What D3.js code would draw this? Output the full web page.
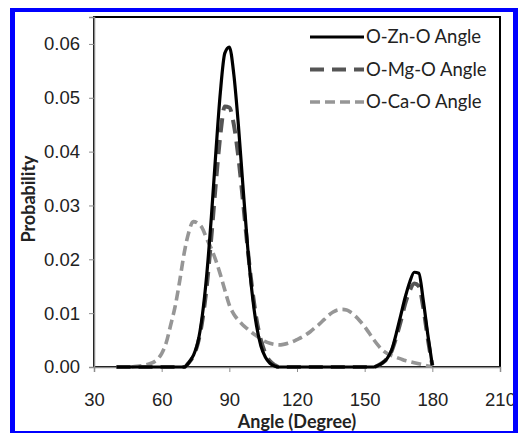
<!DOCTYPE html>
<html>
<head>
<meta charset="utf-8">
<script src="https://cdn.jsdelivr.net/npm/d3@7"></script>
<style>
  body { margin: 0; background: #fff; }
  svg { display: block; font-family: Lato, "Open Sans", sans-serif; }
  .axis path, .axis line { stroke: #8c8c8c; }
  .axis text { font-size: 18.5px; fill: #222; }
</style>
</head>
<body>
<div id="chart"></div>
<script>
// angle grid (degrees)
var angles = d3.range(40, 181, 2);

var znValues = [
  0, 0, 0, 0, 0, 0, 0, 0, 0, 0, 0, 0, 0, 0, 0, 0,
  0.0008, 0.0021, 0.0045, 0.0095, 0.0172, 0.0277, 0.0397, 0.0509, 0.0583, 0.0594,
  0.0543, 0.0450, 0.0338, 0.0229, 0.0141, 0.0078, 0.0039, 0.0018, 0.0007, 0.0002,
  0, 0, 0, 0, 0, 0, 0, 0, 0, 0, 0, 0, 0, 0, 0, 0, 0, 0, 0, 0, 0, 0,
  0.0003, 0.0008, 0.0016, 0.0032, 0.0062, 0.0096, 0.0130, 0.0158, 0.0176, 0.0174,
  0.0123, 0.0060, 0.0003
];

var mgValues = [
  0, 0, 0, 0, 0, 0, 0, 0, 0, 0, 0, 0, 0, 0, 0, 0,
  0.0008, 0.0020, 0.0043, 0.0085, 0.0150, 0.0240, 0.0340, 0.0430, 0.0484, 0.0482,
  0.0450, 0.0390, 0.0310, 0.0225, 0.0150, 0.0090, 0.0050, 0.0025, 0.0011, 0.0004,
  0, 0, 0, 0, 0, 0, 0, 0, 0, 0, 0, 0, 0, 0, 0, 0, 0, 0, 0, 0, 0, 0,
  0.0003, 0.0008, 0.0016, 0.0030, 0.0055, 0.0085, 0.0118, 0.0142, 0.0155, 0.0150,
  0.0110, 0.0052, 0.0003
];

var caValues = [
  0, 0, 0, 0, 0.0001, 0.0002, 0.0003, 0.0005, 0.0008, 0.0014,
  0.0025, 0.0045, 0.0078, 0.0113, 0.0160, 0.0212, 0.0250, 0.0270, 0.0267, 0.0258,
  0.0238, 0.0220, 0.0198, 0.0172, 0.0143, 0.0115, 0.0098, 0.0087, 0.0078, 0.0071,
  0.0064, 0.0058, 0.0052, 0.0047, 0.0044, 0.0042, 0.0041, 0.0042, 0.0044, 0.0047,
  0.0051, 0.0055, 0.0060, 0.0066, 0.0073, 0.0080, 0.0088, 0.0096, 0.0102, 0.0106,
  0.0107, 0.0106, 0.0101, 0.0094, 0.0085, 0.0075, 0.0063, 0.0051, 0.0040, 0.0031,
  0.0025, 0.0021, 0.0018, 0.0015, 0.0012, 0.0010, 0.0008, 0.0006, 0.0004, 0.0002,
  0.0001
];

var seriesNames = ["O-Zn-O Angle", "O-Mg-O Angle", "O-Ca-O Angle"];
var xTicks = [30, 60, 90, 120, 150, 180, 210];
var yTicks = [0, 0.01, 0.02, 0.03, 0.04, 0.05, 0.06];

var W = 518, H = 433;
var margin = {top: 17, right: 18, bottom: 66, left: 94};
var width = W - margin.left - margin.right;
var height = H - margin.top - margin.bottom;

var svg = d3.select("#chart").append("svg")
    .attr("width", W)
    .attr("height", H);

var g = svg.append("g")
    .attr("transform", "translate(" + margin.left + "," + margin.top + ")");

var x = d3.scaleLinear().domain([30, 210]).range([0, width]);
var y = d3.scaleLinear().domain([0, 0.065]).range([height, 0]);

// plot area border
g.append("rect")
    .attr("width", width)
    .attr("height", height)
    .attr("fill", "none")
    .attr("stroke", "#000")
    .attr("stroke-width", 2);

g.append("g")
    .attr("class", "axis")
    .call(d3.axisLeft(y).tickValues(yTicks).tickFormat(d3.format(".2f"))
      .tickSizeOuter(0).tickSize(5).tickPadding(9))
    .select(".domain").attr("stroke-width", 1.5);

g.append("g")
    .attr("class", "axis")
    .attr("transform", "translate(0," + height + ")")
    .call(d3.axisBottom(x).tickValues(xTicks).tickSizeOuter(0).tickSize(5).tickPadding(21))
    .select(".domain").attr("stroke-width", 1.5);

var styles = [
  {color: "#000", width: 3.2, dash: null},
  {color: "#555", width: 4, dash: "14,8"},
  {color: "#969696", width: 3.6, dash: "10,5"}
];
var allValues = [znValues, mgValues, caValues];

var line = d3.line()
    .x(function(d, i) { return x(angles[i]); })
    .y(function(d) { return y(d); })
    .curve(d3.curveMonotoneX);

// draw Ca first, Zn on top
[2, 1, 0].forEach(function(k) {
  g.append("path")
      .datum(allValues[k])
      .attr("fill", "none")
      .attr("stroke", styles[k].color)
      .attr("stroke-width", styles[k].width)
      .attr("stroke-dasharray", styles[k].dash)
      .attr("d", line);
});

// legend
var legend = svg.append("g");
seriesNames.forEach(function(name, k) {
  var ly = 37 + k * 32.5;
  legend.append("line")
      .attr("x1", 310).attr("x2", 364)
      .attr("y1", ly).attr("y2", ly)
      .attr("stroke", styles[k].color)
      .attr("stroke-width", styles[k].width)
      .attr("stroke-dasharray", styles[k].dash);
  legend.append("text")
      .attr("x", 366)
      .attr("y", ly)
      .attr("dy", "0.35em")
      .style("font-size", "18.5px")
      .attr("fill", "#222")
      .text(name);
});

// axis titles
svg.append("text")
    .attr("x", margin.left + width / 2)
    .attr("y", 428)
    .attr("text-anchor", "middle")
    .style("font-size", "18px")
    .style("font-weight", "bold")
    .attr("fill", "#222")
    .text("Angle (Degree)");

svg.append("text")
    .attr("transform", "translate(35," + (margin.top + 182) + ") rotate(-90)")
    .attr("text-anchor", "middle")
    .style("font-size", "18px")
    .style("font-weight", "bold")
    .attr("fill", "#222")
    .text("Probability");

// blue frame
var blue = "#0000ff";
svg.append("rect").attr("x", 10).attr("y", 8).attr("width", 5).attr("height", 425).attr("fill", blue);
svg.append("rect").attr("x", 10).attr("y", 8).attr("width", 508).attr("height", 4).attr("fill", blue);
svg.append("rect").attr("x", 513).attr("y", 8).attr("width", 5).attr("height", 425).attr("fill", blue);
svg.append("rect").attr("x", 10).attr("y", 431).attr("width", 508).attr("height", 2).attr("fill", blue);
</script>
</body>
</html>
